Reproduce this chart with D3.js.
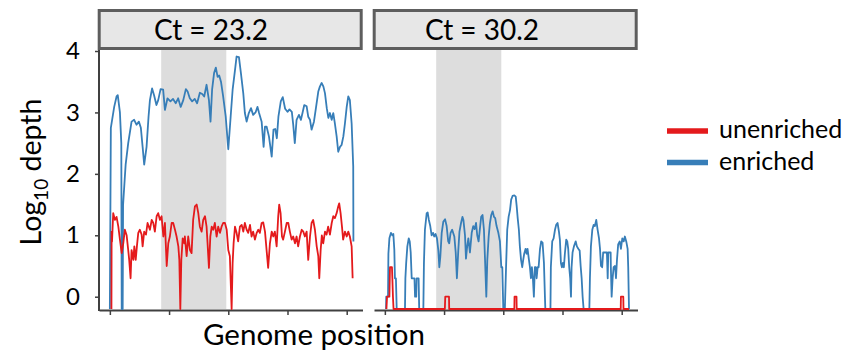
<!DOCTYPE html>
<html>
<head>
<meta charset="utf-8">
<script src="https://cdn.jsdelivr.net/npm/d3@7"></script>
<style>
  body { margin: 0; background: #fff; }
  svg text { font-family: Lato, "Open Sans", sans-serif; fill: #000; }
</style>
</head>
<body>
<svg id="chart" width="857" height="350"></svg>
<script>
const panelTitles = ['Ct = 23.2', 'Ct = 30.2'];
const seriesNames = ['unenriched', 'enriched'];
const yTicks = [0, 1, 2, 3, 4];
const xTicks = [0, 30, 60, 90, 120];
const shadedRegion = [26, 59];

// [genome position, log10 depth]; -0.2 means no reads (drawn on the bottom edge)
const enriched23 = [
  [0.0,-0.2],[0.5,2.75],[2.2,3.09],[3.4,3.26],[4.0,3.28],[5.1,3.0],[5.8,2.5],[6.0,-0.2],[6.5,-0.2],[6.7,1.5],
  [7.5,1.9],[8.0,2.15],[9.3,2.5],[11.0,2.85],[12.3,2.88],[13.5,2.8],[14.7,2.85],[15.7,2.75],[16.6,2.44],[17.4,2.15],
  [18.6,2.44],[19.6,2.93],[20.3,3.2],[21.4,3.39],[22.4,3.28],[23.6,3.12],[24.5,3.2],[25.7,3.38],[27.0,3.37],[27.9,3.04],
  [29.2,3.23],[30.7,3.18],[32.0,3.22],[33.4,3.15],[34.6,3.23],[35.9,3.09],[37.2,3.2],[38.5,3.38],[39.4,3.34],[40.5,3.23],
  [41.7,3.18],[43.0,3.22],[44.2,3.15],[45.6,3.32],[46.8,3.3],[47.8,3.26],[49.0,3.45],[50.2,3.2],[51.0,2.85],[51.8,3.37],
  [52.8,3.64],[53.7,3.73],[54.6,3.58],[55.4,3.6],[56.3,3.5],[57.4,3.26],[58.7,2.93],[60.0,2.4],[61.2,2.93],[62.2,3.37],
  [63.4,3.69],[64.2,3.91],[65.4,3.9],[66.4,3.64],[67.6,3.31],[68.4,2.99],[69.3,2.85],[70.4,2.99],[71.5,3.07],[72.6,2.96],
  [73.8,3.0],[74.8,3.09],[75.6,2.99],[76.9,2.85],[77.9,2.44],[78.6,2.77],[79.4,2.77],[80.6,2.61],[82.0,2.28],[82.9,2.72],
  [83.8,2.73],[84.6,2.58],[85.4,2.93],[86.6,3.18],[87.6,3.25],[88.8,3.06],[90.0,3.01],[91.0,3.05],[92.2,3.01],[92.9,2.8],
  [93.7,2.5],[94.6,2.88],[95.8,2.96],[96.8,2.88],[97.6,2.99],[98.5,3.12],[99.7,3.1],[100.5,2.93],[101.4,2.88],[102.2,2.72],
  [103.4,2.85],[104.4,3.07],[105.6,3.34],[106.4,3.42],[107.3,3.48],[108.2,3.42],[109.0,3.31],[109.9,3.07],[110.7,2.91],[111.5,2.99],
  [112.4,2.88],[113.2,2.99],[114.0,2.82],[114.9,2.61],[115.7,2.36],[116.6,2.44],[117.4,2.47],[118.3,2.61],[119.1,2.82],[120.0,3.09],
  [120.8,3.26],[121.6,3.2],[122.5,2.82],[123.3,2.12],[123.4,0.9]
];
const unenriched23 = [
  [0.8,-0.2],[0.9,1.06],[1.1,0.9],[1.7,1.36],[2.6,1.25],[3.4,1.3],[4.3,1.14],[5.1,0.93],[6.0,0.71],[6.8,0.87],
  [7.6,1.09],[8.5,1.0],[9.3,0.76],[9.8,0.6],[10.5,0.3],[11.0,0.76],[11.9,0.6],[12.4,0.82],[13.1,0.6],[13.7,0.82],
  [14.4,1.04],[15.2,1.09],[16.1,1.01],[16.6,0.82],[17.4,1.06],[18.3,1.01],[19.1,1.2],[20.3,1.09],[21.2,1.25],[22.0,1.2],
  [22.8,1.06],[23.7,1.31],[24.5,1.36],[25.4,1.25],[26.2,1.31],[27.1,0.98],[27.9,1.2],[28.8,0.5],[29.6,0.87],[30.4,0.98],
  [31.3,1.2],[32.1,1.2],[33.0,1.09],[33.8,0.98],[34.7,0.82],[35.2,0.6],[35.7,-0.2],[36.2,0.6],[36.9,0.95],[37.7,0.87],
  [38.0,0.98],[38.9,0.66],[39.7,0.98],[40.6,0.76],[41.4,0.71],[42.2,1.25],[43.1,1.47],[44.0,1.5],[44.8,1.36],[45.6,1.14],
  [46.5,1.06],[47.3,1.25],[48.2,1.31],[49.0,1.14],[49.5,0.87],[50.2,0.47],[50.9,0.98],[51.6,1.14],[52.4,1.09],[53.2,1.2],
  [54.1,0.98],[54.9,1.14],[55.8,1.04],[56.6,1.14],[57.4,1.2],[58.3,1.2],[59.2,1.09],[60.0,0.76],[60.8,0.66],[61.7,-0.2],
  [62.2,0.55],[62.7,0.87],[63.4,1.14],[64.2,1.04],[65.0,0.9],[65.9,1.14],[66.8,1.17],[67.6,1.06],[68.4,1.2],[69.3,1.09],
  [70.1,1.04],[71.0,1.17],[71.8,0.98],[72.6,1.06],[73.5,0.93],[74.4,1.04],[75.2,1.09],[76.0,1.04],[76.9,1.2],[77.7,1.21],
  [78.6,1.06],[79.4,0.76],[80.2,0.47],[81.1,0.87],[82.0,1.06],[82.8,0.98],[83.6,1.06],[84.5,0.82],[85.3,1.31],[85.8,1.5],
  [86.5,1.36],[87.2,0.98],[87.8,0.93],[88.7,1.06],[89.6,1.2],[90.4,1.2],[91.2,1.06],[92.1,0.93],[92.9,0.98],[93.8,0.87],
  [94.6,0.98],[95.4,0.82],[96.3,0.98],[97.2,1.09],[98.0,1.06],[98.8,0.98],[99.7,1.06],[100.5,0.6],[101.4,0.98],[102.2,1.2],
  [103.0,1.25],[103.9,1.09],[104.8,0.82],[105.6,0.66],[106.1,0.3],[106.8,0.76],[107.4,1.0],[108.1,0.87],[109.0,1.06],[109.8,1.01],
  [110.6,1.14],[111.5,1.01],[112.4,1.2],[113.2,1.31],[114.0,1.28],[114.9,1.36],[115.7,1.47],[116.2,1.52],[116.9,1.36],[117.6,1.14],
  [118.2,0.93],[119.1,1.06],[120.0,0.98],[120.8,1.06],[121.6,0.98],[122.5,0.82],[123.0,0.3]
];
const enriched30 = [
  [0.6,-0.2],[0.7,0],[1.6,0],[1.8,0.7],[2.3,0.95],[3.1,1.04],[3.8,1.0],[4.3,1.02],[4.8,0.76],[5.1,0.3],
  [5.6,0.3],[6.0,-0.2],[10.2,-0.2],[10.4,0.3],[10.8,0.55],[11.4,0.82],[12.1,0.95],[12.6,0.9],[13.1,0.72],[13.6,0.3],
  [15.0,0.3],[15.3,0],[15.9,0],[16.1,0.3],[17.1,0.3],[17.4,-0.2],[19.5,-0.2],[19.8,0.55],[20.3,1.09],[21.2,1.36],
  [21.7,1.37],[22.3,1.25],[23.0,1.15],[23.7,1.0],[24.4,1.04],[25.0,0.98],[25.7,1.02],[26.4,0.95],[27.1,0.75],[27.6,0.48],
  [28.1,0.65],[28.8,1.04],[29.6,1.22],[30.5,1.26],[31.3,1.15],[32.1,0.9],[32.6,0.87],[33.3,1.04],[34.1,1.09],[35.2,0.98],
  [35.9,0.72],[36.5,0.3],[37.2,0.75],[37.8,1.06],[38.6,1.2],[39.3,1.3],[39.8,1.25],[40.6,1.0],[41.1,0.62],[41.7,0.82],
  [42.3,0.95],[43.1,0.72],[44.0,1.04],[44.8,1.15],[45.5,1.1],[46.2,1.2],[46.8,1.0],[47.5,0.9],[48.2,1.12],[48.8,1.3],
  [49.5,1.33],[50.2,1.09],[50.7,0.65],[51.4,0],[51.9,0.6],[52.6,0.98],[53.2,1.19],[53.9,1.33],[54.6,1.39],[55.3,1.3],
  [55.9,1.28],[56.6,1.15],[57.5,1.04],[58.3,0.9],[59.0,0.48],[59.5,0.48],[60.0,-0.2],[60.8,-0.2],[61.4,0.48],[62.0,1.09],
  [62.7,1.3],[63.4,1.41],[64.0,1.58],[64.7,1.64],[65.6,1.65],[66.3,1.63],[66.8,1.47],[67.3,1.28],[67.9,1.09],[68.4,0.82],
  [69.0,0.6],[69.6,0.48],[70.1,0.6],[70.6,0.7],[71.3,0.78],[71.8,0.7],[72.3,0.78],[73.0,0.6],[73.5,0.48],[74.0,0.3],
  [74.5,0.48],[75.0,0.3],[75.5,0],[76.0,0.48],[76.5,0.48],[76.9,0.3],[77.4,0.48],[77.9,0.48],[78.6,0.78],[79.2,0.9],
  [79.9,0.88],[80.6,0.55],[81.1,0],[81.3,-0.2],[83.9,-0.2],[84.1,0.48],[84.8,0.9],[85.5,0.95],[86.2,1.09],[86.8,1.17],
  [87.5,1.2],[88.2,1.06],[88.7,0.92],[89.2,0.55],[89.7,0.48],[90.2,0.55],[90.7,0.48],[91.2,0.7],[91.9,0.93],[92.4,0.9],
  [92.9,0.78],[93.4,0.48],[93.9,0.3],[94.3,0],[94.6,0.48],[95.1,0.72],[95.8,0.82],[96.7,0.9],[97.3,0.82],[98.0,0.78],
  [98.7,0.75],[99.2,0.5],[99.7,0.3],[100.2,0],[100.7,-0.2],[103.6,-0.2],[103.9,0.3],[104.4,0.82],[105.1,1.09],[105.8,1.17],
  [106.4,1.15],[107.1,1.25],[107.8,1.09],[108.5,0.95],[109.0,0.78],[109.5,0.5],[110.1,0.48],[110.6,0.72],[112.5,0.72],[112.9,0.3],
  [113.2,0.72],[114.4,0.72],[114.5,0.48],[114.9,0],[115.4,0.3],[115.9,0.48],[116.6,0.5],[117.1,0.3],[117.6,0.6],[118.2,0.85],
  [119.0,0.9],[119.6,0.78],[120.3,0.95],[121.0,0.9],[121.6,0.98],[122.3,0.9],[123.0,0.78],[123.3,0.48],[123.7,-0.2]
];
const unenriched30 = [
  [0.8,-0.2],[1.1,0],[2.3,0],[2.6,0.48],[3.6,0.48],[3.8,0.3],[4.1,0],[4.4,-0.2],[30.4,-0.2],[30.6,0],
  [32.5,0],[32.6,-0.2],[65.6,-0.2],[65.7,0],[66.7,0],[66.8,-0.2],[119.5,-0.2],[119.6,0],[120.8,0],[120.9,-0.2],
  [123.7,-0.2]
];

const colors = {unenriched: '#e41a1c', enriched: '#377eb8'};
const axisColor = '#404040';

const svg = d3.select('#chart');

const y = d3.scaleLinear().domain([-0.2, 4]).range([309, 51]);
const panelWidth = 263.5;

const panels = [
  {title: panelTitles[0], left: 99, titleX: 211, enriched: enriched23, unenriched: unenriched23, yAxis: true},
  {title: panelTitles[1], left: 374, titleX: 482, enriched: enriched30, unenriched: unenriched30, yAxis: false}
];

panels.forEach(p => drawPanel(p));
drawLabels();
drawLegend();

function drawPanel(p) {
  const x = d3.scaleLinear().domain([-5.5, 128]).range([p.left, p.left + panelWidth]);
  const g = svg.append('g');

  // shaded region
  g.append('rect')
   .attr('x', x(shadedRegion[0]))
   .attr('y', 50)
   .attr('width', x(shadedRegion[1]) - x(shadedRegion[0]))
   .attr('height', 309 - 50)
   .attr('fill', '#dddddd');

  // strip
  g.append('rect')
   .attr('x', p.left + 0.2)
   .attr('y', 10.5)
   .attr('width', panelWidth - 1.5)
   .attr('height', 38)
   .attr('fill', '#e7e7e7')
   .attr('stroke', '#5e5e5e')
   .attr('stroke-width', 3);
  g.append('text')
   .attr('x', p.titleX)
   .attr('y', 40)
   .attr('text-anchor', 'middle')
   .attr('font-size', 28)
   .text(p.title);

  // x axis
  const xa = g.append('g')
              .attr('transform', 'translate(0,310)')
              .call(d3.axisBottom(x).tickValues(xTicks).tickSize(5).tickSizeOuter(0).tickFormat(''));
  xa.select('.domain').attr('stroke', axisColor).attr('stroke-width', 2);
  xa.selectAll('.tick line').attr('stroke', axisColor).attr('stroke-width', 1.5);

  if (p.yAxis) {
    const ya = g.append('g')
                .attr('transform', `translate(${p.left},0)`)
                .call(d3.axisLeft(y).tickValues(yTicks).tickFormat(d3.format('d'))
                        .tickSize(4).tickPadding(15).tickSizeOuter(0));
    ya.select('.domain')
      .attr('d', `M0,${y(4) - 1}V311`)
      .attr('stroke', axisColor)
      .attr('stroke-width', 2);
    ya.selectAll('.tick line').attr('stroke', axisColor).attr('stroke-width', 1.5);
    ya.selectAll('.tick text')
      .attr('font-size', 24)
      .attr('font-family', 'Lato, sans-serif')
      .attr('fill', '#000');
  }

  const line = d3.line()
                 .x(d => x(d[0]))
                 .y(d => y(d[1]));

  g.append('path')
   .datum(p.enriched)
   .attr('d', line)
   .attr('fill', 'none')
   .attr('stroke', colors.enriched)
   .attr('stroke-width', 1.8)
   .attr('stroke-linejoin', 'round');
  g.append('path')
   .datum(p.unenriched)
   .attr('d', line)
   .attr('fill', 'none')
   .attr('stroke', colors.unenriched)
   .attr('stroke-width', 1.8)
   .attr('stroke-linejoin', 'round');
}

function drawLabels() {
  svg.append('text')
     .attr('x', 314)
     .attr('y', 345)
     .attr('text-anchor', 'middle')
     .attr('font-size', 29.5)
     .text('Genome position');

  const yl = svg.append('text')
                .attr('transform', 'translate(41,172) rotate(-90)')
                .attr('text-anchor', 'middle')
                .attr('font-size', 28.5);
  yl.append('tspan').text('Log');
  yl.append('tspan').attr('font-size', 19).attr('dy', 7).text('10');
  yl.append('tspan').attr('dy', -7).text(' depth');
}

function drawLegend() {
  const lg = svg.append('g').attr('transform', 'translate(667,131)');
  seriesNames.forEach((name, i) => {
    lg.append('line')
      .attr('x1', 0)
      .attr('x2', 41)
      .attr('y1', i * 31.6)
      .attr('y2', i * 31.6)
      .attr('stroke', colors[name])
      .attr('stroke-width', 5.5);
    lg.append('text')
      .attr('x', 52)
      .attr('y', i * 31.6 + 7)
      .attr('font-size', 25)
      .text(name);
  });
}
</script>
</body>
</html>
